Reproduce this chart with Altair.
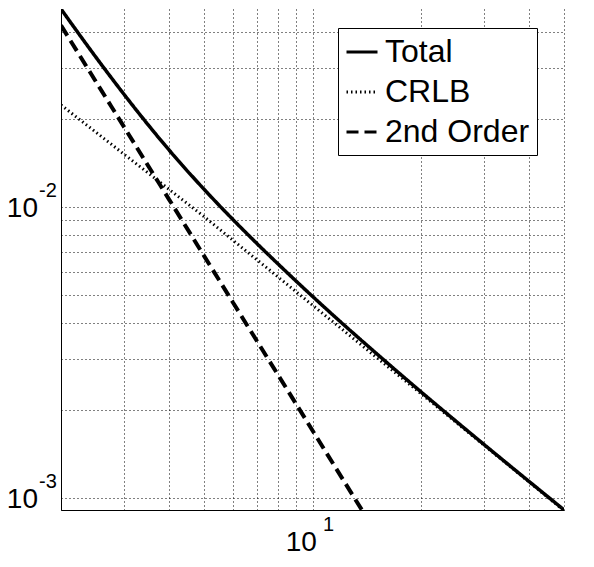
import altair as alt
import pandas as pd

# ---- data ----
x_main = [2, 2.5, 3, 3.5, 4, 5, 6, 7, 8, 10, 12, 15, 20, 25, 30, 40, 50]
total = [0.0479, 0.03272, 0.0243, 0.0191, 0.01566, 0.01149, 0.009072, 0.007497,
         0.00639, 0.004929, 0.004016, 0.003149, 0.002318, 0.001839, 0.001525,
         0.001139, 0.00091]
crlb = [0.02241, 0.01807, 0.01515, 0.01306, 0.01148, 0.009254, 0.007696, 0.00659,
        0.005761, 0.004597, 0.003826, 0.003053, 0.002285, 0.001823, 0.001516,
        0.001134, 0.000905]
x_second = [2, 2.5, 3, 3.5, 4, 5, 6, 7, 8, 10, 12, 14]
second = [0.04207, 0.02697, 0.01876, 0.0138, 0.01058, 0.00678, 0.004715, 0.003468,
          0.002661, 0.001706, 0.001186, 0.000873]

series_names = ["Total", "CRLB", "2nd Order"]
series_dash = [[1, 0], [1.5, 3], [12, 6]]
series_width = [3.5, 3, 4]

x_grid = [2, 3, 4, 5, 6, 7, 8, 9, 10, 20, 30, 40, 50]
y_grid = [0.001, 0.002, 0.003, 0.004, 0.005, 0.006, 0.007, 0.008, 0.009,
          0.01, 0.02, 0.03, 0.04]
x_domain = [2, 50]
y_domain = [0.000909, 0.0479]

y_label_vals = [0.01, 0.001]
y_label_base = ["10", "10"]
y_label_exp = ["-2", "-3"]
x_label_vals = [10]
x_label_base = ["10"]
x_label_exp = ["1"]

rows = []
for name, xs, ys in [("Total", x_main, total), ("CRLB", x_main, crlb),
                     ("2nd Order", x_second, second)]:
    w = series_width[series_names.index(name)]
    for xv, v in zip(xs, ys):
        rows.append({"x": xv, "y": v, "series": name, "w": w})
df = pd.DataFrame(rows)

ylab = pd.DataFrame({"y": y_label_vals, "base": y_label_base, "exp": y_label_exp})
xlab = pd.DataFrame({"x": x_label_vals, "base": x_label_base, "exp": x_label_exp})

xscale = alt.Scale(type="log", domain=x_domain, nice=False)
yscale = alt.Scale(type="log", domain=y_domain, nice=False)

xaxis = alt.Axis(values=x_grid, labels=False, ticks=False, grid=True, title=None,
                 gridDash=[1, 3], gridColor="black", gridOpacity=1, gridWidth=1,
                 domainColor="black", domainWidth=1)
yaxis = alt.Axis(values=y_grid, labels=False, ticks=False, grid=True, title=None,
                 gridDash=[1, 3], gridColor="black", gridOpacity=1, gridWidth=1,
                 domainColor="black", domainWidth=1)

legend = alt.Legend(title=None, orient="none", legendX=277, legendY=19,
                    padding=7, strokeColor="black", fillColor="white",
                    labelFontSize=32, labelFont="Liberation Sans", labelColor="black",
                    symbolType="stroke", symbolSize=961, symbolStrokeColor="black",
                    symbolStrokeWidth=3, rowPadding=7, labelOffset=6)

lines = alt.Chart(df).mark_line(color="black", clip=True, interpolate="monotone").encode(
    x=alt.X("x:Q", scale=xscale, axis=xaxis),
    y=alt.Y("y:Q", scale=yscale, axis=yaxis),
    strokeDash=alt.StrokeDash("series:N",
                              scale=alt.Scale(domain=series_names, range=series_dash),
                              legend=legend),
    strokeWidth=alt.StrokeWidth("w:Q", scale=None, legend=None),
    detail="series:N",
)

ybase = alt.Chart(ylab).mark_text(align="right", baseline="alphabetic", fontSize=28,
                                  font="Liberation Sans", dy=10, color="black").encode(
    x=alt.value(-23),
    y=alt.Y("y:Q", scale=yscale, axis=yaxis),
    text="base:N",
)
yexp = alt.Chart(ylab).mark_text(align="left", baseline="alphabetic", fontSize=20,
                                 font="Liberation Sans", dy=-10, color="black").encode(
    x=alt.value(-22),
    y=alt.Y("y:Q", scale=yscale, axis=yaxis),
    text="exp:N",
)
xbase = alt.Chart(xlab).mark_text(align="right", baseline="alphabetic", fontSize=28,
                                  font="Liberation Sans", dx=4.4, color="black").encode(
    x=alt.X("x:Q", scale=xscale, axis=xaxis),
    y=alt.value(542),
    text="base:N",
)
xexp = alt.Chart(xlab).mark_text(align="left", baseline="alphabetic", fontSize=20,
                                 font="Liberation Sans", dx=10.4, color="black").encode(
    x=alt.X("x:Q", scale=xscale, axis=xaxis),
    y=alt.value(522),
    text="exp:N",
)

chart = alt.layer(lines, ybase, yexp, xbase, xexp).properties(
    width=503, height=501,
    padding={"left": 53, "top": 1, "right": 22, "bottom": 49},
    autosize=alt.AutoSizeParams(type="none"),
    background="white",
).configure_view(stroke=None)

chart.save("out.html", embed_options={"renderer": "svg", "actions": False})
